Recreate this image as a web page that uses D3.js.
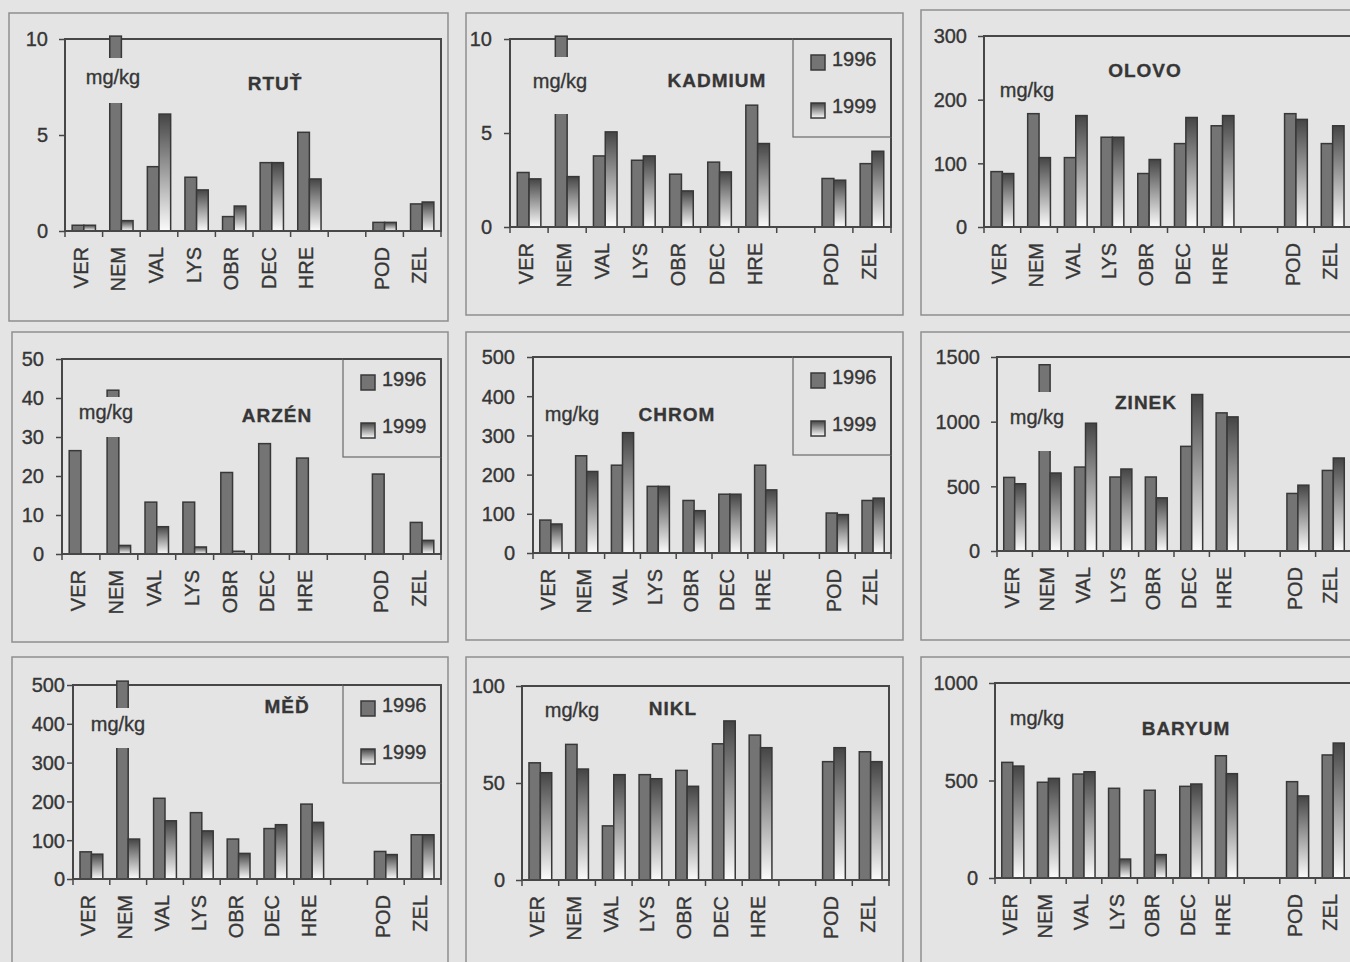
<!DOCTYPE html>
<html>
<head>
<meta charset="utf-8">
<script src="https://cdn.jsdelivr.net/npm/d3@7"></script>
<style>
  html, body { margin: 0; padding: 0; background: #e4e4e4; }
  svg { display: block; }
  text { font-family: "Liberation Sans", Arial, sans-serif; fill: #363636; stroke: #363636; stroke-width: 0.35px; }
</style>
</head>
<body>
<svg id="chart" width="1350" height="962"></svg>
<script>
// Sampling sites (an empty slot separates the last two) and sampling years
const categories = ["VER", "NEM", "VAL", "LYS", "OBR", "DEC", "HRE", "", "POD", "ZEL"];
const years = ["1996", "1999"];

// Concentrations in mg/kg, null = not measured
const rtut1996    = [0.3, 10.15, 3.35, 2.8, 0.75, 3.56, 5.14, null, 0.45, 1.41];
const rtut1999    = [0.3, 0.54, 6.09, 2.14, 1.3, 3.56, 2.71, null, 0.45, 1.51];
const kadmium1996 = [2.9, 10.15, 3.78, 3.55, 2.81, 3.45, 6.48, null, 2.58, 3.37];
const kadmium1999 = [2.56, 2.68, 5.06, 3.78, 1.92, 2.93, 4.44, null, 2.49, 4.03];
const olovo1996   = [87, 178, 109, 141, 84, 131, 159, null, 178, 131];
const olovo1999   = [84, 109, 175, 141, 106, 172, 175, null, 169, 159];
const arzen1996   = [26.5, 42, 13.3, 13.3, 20.9, 28.3, 24.6, null, 20.5, 8.1];
const arzen1999   = [null, 2.2, 7.0, 1.8, 0.7, null, null, null, null, 3.5];
const chrom1996   = [84, 248, 224, 170, 134, 150, 224, null, 102, 134];
const chrom1999   = [74, 208, 307, 170, 108, 150, 161, null, 98, 140];
const zinek1996   = [569, 1440, 649, 572, 572, 809, 1068, null, 445, 623];
const zinek1999   = [520, 603, 988, 634, 411, 1210, 1037, null, 509, 719];
const med1996     = [70, 510, 208, 171, 103, 130, 193, null, 71, 114];
const med1999     = [64, 103, 150, 124, 66, 140, 146, null, 63, 114];
const nikl1996    = [60.4, 69.9, 27.9, 54.3, 56.5, 70.2, 74.7, null, 61, 66.1];
const nikl1999    = [55.3, 57.2, 54.3, 52.2, 48.3, 82, 68.2, null, 68.2, 61];
const baryum1996  = [593, 491, 533, 460, 450, 470, 627, null, 494, 631];
const baryum1999  = [574, 511, 545, 97, 120, 482, 535, null, 421, 692];

// Y axis tick values
const rtutTicks    = [0, 5, 10];
const kadmiumTicks = [0, 5, 10];
const olovoTicks   = [0, 100, 200, 300];
const arzenTicks   = [0, 10, 20, 30, 40, 50];
const chromTicks   = [0, 100, 200, 300, 400, 500];
const zinekTicks   = [0, 500, 1000, 1500];
const medTicks     = [0, 100, 200, 300, 400, 500];
const niklTicks    = [0, 50, 100];
const baryumTicks  = [0, 500, 1000];

const unitText = "mg/kg";

// Panel layout: outer frame, plot area, label offsets (relative to the plot's top-left)
const panels = [
  { title: "RTUŤ",    a: rtut1996,    b: rtut1999,    ticks: rtutTicks,
    frame: [9, 13, 448, 321],   plot: [65, 39, 441, 231],   gap: 17,  unit: [48, 45], cut: [19, 64], head: [210, 51], legend: false },
  { title: "KADMIUM", a: kadmium1996, b: kadmium1999, ticks: kadmiumTicks,
    frame: [466, 13, 903, 315], plot: [510, 39, 891, 227],  gap: 18,  unit: [50, 49], cut: [18, 75], head: [207, 48], legend: true },
  { title: "OLOVO",   a: olovo1996,   b: olovo1999,   ticks: olovoTicks,
    frame: [921, 10, 1362, 315], plot: [984, 36, 1351, 227], gap: 17, unit: [43, 61], cut: null, head: [161, 41], legend: false },
  { title: "ARZÉN",   a: arzen1996,   b: arzen1999,   ticks: arzenTicks,
    frame: [12, 332, 448, 642], plot: [62, 359, 441, 554],  gap: 18,  unit: [44, 60], cut: [38, 78], head: [215, 63], legend: true },
  { title: "CHROM",   a: chrom1996,   b: chrom1999,   ticks: chromTicks,
    frame: [466, 332, 903, 640], plot: [533, 357, 891, 553], gap: 18, unit: [39, 64], cut: null, head: [144, 64], legend: true },
  { title: "ZINEK",   a: zinek1996,   b: zinek1999,   ticks: zinekTicks,
    frame: [921, 332, 1362, 640], plot: [997, 357, 1351, 551], gap: 17, unit: [40, 67], cut: [35, 94], head: [149, 52], legend: false },
  { title: "MĚĎ",     a: med1996,     b: med1999,     ticks: medTicks,
    frame: [12, 657, 448, 975], plot: [73, 685, 441, 879],  gap: 8,   unit: [45, 46], cut: [23, 63], head: [214, 28], legend: true },
  { title: "NIKL",    a: nikl1996,    b: nikl1999,    ticks: niklTicks,
    frame: [466, 657, 903, 975], plot: [522, 686, 889, 880], gap: 17, unit: [50, 31], cut: null, head: [151, 29], legend: false },
  { title: "BARYUM",  a: baryum1996,  b: baryum1999,  ticks: baryumTicks,
    frame: [921, 657, 1362, 975], plot: [995, 683, 1351, 878], gap: 17, unit: [42, 42], cut: null, head: [191, 52], legend: false }
];

const BG = "#e4e4e4";
const EDGE = "#383838";

const svg = d3.select("#chart");
const defs = svg.append("defs");
const grad = defs.append("linearGradient")
  .attr("id", "fade1999").attr("x1", 0).attr("y1", 0).attr("x2", 0).attr("y2", 1);
grad.append("stop").attr("offset", "0%").attr("stop-color", "#454545");
grad.append("stop").attr("offset", "100%").attr("stop-color", "#fbfbfb");

const seriesFill = ["#747474", "url(#fade1999)"];

panels.forEach(p => {
  const g = svg.append("g");
  const [L, T, R, B] = p.plot;

  // outer frame of the panel
  g.append("rect")
    .attr("x", p.frame[0]).attr("y", p.frame[1])
    .attr("width", p.frame[2] - p.frame[0]).attr("height", p.frame[3] - p.frame[1])
    .attr("fill", "none").attr("stroke", "#8e8e8e").attr("stroke-width", 1.5);

  const x = d3.scaleBand().domain(d3.range(categories.length)).range([L, R]).padding(0);
  const y = d3.scaleLinear().domain([0, d3.max(p.ticks)]).range([B, T]);

  // plot area frame
  g.append("rect")
    .attr("x", L).attr("y", T).attr("width", R - L).attr("height", B - T)
    .attr("fill", "none").attr("stroke", "#474747").attr("stroke-width", 2);

  // bars: 1996 left of the slot centre, 1999 right of it
  const bw = x.step() * 0.31;
  [p.a, p.b].forEach((vals, k) => {
    g.append("g").selectAll("rect")
      .data(vals.map((v, i) => ({ v, i })).filter(d => d.v != null))
      .join("rect")
      .attr("x", d => x(d.i) + x.bandwidth() / 2 + (k === 0 ? -bw : 0))
      .attr("width", bw)
      .attr("y", d => y(d.v))
      .attr("height", d => B - y(d.v))
      .attr("fill", seriesFill[k])
      .attr("stroke", EDGE).attr("stroke-width", 1.5);
  });

  // baseline redrawn above the bar bottoms
  g.append("line").attr("x1", L).attr("x2", R).attr("y1", B).attr("y2", B)
    .attr("stroke", "#474747").attr("stroke-width", 2);

  // y axis
  const yAxis = d3.axisLeft(y).tickValues(p.ticks).tickSize(6).tickPadding(p.gap - 6)
    .tickFormat(d3.format("d"));
  const ya = g.append("g").attr("transform", `translate(${L},0)`).call(yAxis);
  ya.select(".domain").remove();
  ya.selectAll(".tick line").attr("stroke", "#474747").attr("stroke-width", 1.5);
  ya.selectAll(".tick text")
    .attr("font-size", 20)
    .attr("dy", "0.34em");

  // x axis: ticks at slot boundaries, rotated site labels
  const bounds = d3.range(categories.length + 1).map(i => L + i * x.step());
  g.append("g").selectAll("line").data(bounds).join("line")
    .attr("x1", d => d).attr("x2", d => d).attr("y1", B).attr("y2", B + 6)
    .attr("stroke", "#474747").attr("stroke-width", 1.5);
  g.append("g").selectAll("text").data(categories).join("text")
    .attr("transform", (d, i) => `translate(${x(i) + x.bandwidth() / 2},${B + 16}) rotate(-90)`)
    .attr("text-anchor", "end")
    .attr("dy", "0.2em")
    .attr("font-size", 20)
    .text(d => d);

  // unit label; its backing hides part of an off-scale bar
  const ux = L + p.unit[0], uy = T + p.unit[1];
  if (p.cut) {
    g.append("rect")
      .attr("x", ux - 30).attr("y", T + p.cut[0])
      .attr("width", 60).attr("height", p.cut[1] - p.cut[0])
      .attr("fill", BG);
  }
  g.append("text").attr("x", ux).attr("y", uy)
    .attr("text-anchor", "middle").attr("font-size", 20)
    .text(unitText);

  // element name
  g.append("text").attr("x", L + p.head[0]).attr("y", T + p.head[1])
    .attr("text-anchor", "middle").attr("font-size", 19).attr("font-weight", "bold")
    .attr("letter-spacing", "1px")
    .text(p.title);

  // legend box in the top-right corner of the plot
  if (p.legend) {
    const lw = 98, lh = 98, lx = R - lw, ly = T;
    const lg = g.append("g");
    lg.append("rect").attr("x", lx).attr("y", ly).attr("width", lw).attr("height", lh)
      .attr("fill", BG).attr("stroke", "#6a6a6a").attr("stroke-width", 1.2);
    years.forEach((yr, k) => {
      lg.append("rect")
        .attr("x", lx + 18).attr("y", ly + 16 + k * 48)
        .attr("width", 14).attr("height", 15)
        .attr("fill", seriesFill[k]).attr("stroke", EDGE).attr("stroke-width", 1.5);
      lg.append("text").attr("x", lx + 39).attr("y", ly + 27 + k * 47)
        .attr("font-size", 20).text(yr);
    });
    // the plot frame stays on top of the legend's edges
    g.append("line").attr("x1", lx).attr("x2", R).attr("y1", T).attr("y2", T)
      .attr("stroke", "#474747").attr("stroke-width", 2);
    g.append("line").attr("x1", R).attr("x2", R).attr("y1", T).attr("y2", T + lh)
      .attr("stroke", "#474747").attr("stroke-width", 2);
  }
});
</script>
</body>
</html>
